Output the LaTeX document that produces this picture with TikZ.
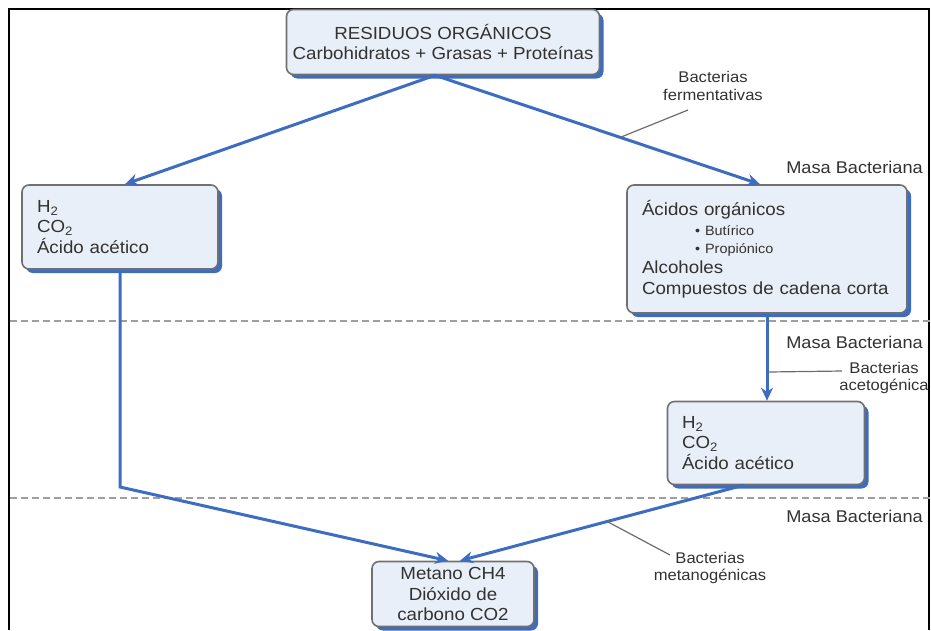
\documentclass[tikz,border=0pt]{standalone}
\usepackage{fontspec}
\setmainfont{Liberation Sans}[FakeStretch=1.07]
\usetikzlibrary{arrows.meta,shadows}
\definecolor{flowblue}{RGB}{61,108,192}
\definecolor{boxfill}{RGB}{233,239,248}
\definecolor{boxline}{RGB}{112,112,112}
\definecolor{inktext}{RGB}{50,50,50}
\tikzstyle{stagebox}=[draw=boxline, line width=1.6pt, fill=boxfill, rounded corners=7pt, text=inktext,
  drop shadow={shadow xshift=4pt, shadow yshift=-4pt, fill=flowblue, opacity=1},
  font=\fontsize{17.5}{20.5}\selectfont]
\tikzstyle{flow}=[draw=flowblue, line width=3pt, -{Stealth[length=13pt,width=12pt]}]
\tikzstyle{leader}=[draw=gray!85!black, line width=1.2pt]
\tikzstyle{note}=[text=inktext, font=\fontsize{15.5}{17.5}\selectfont, align=center, inner sep=0pt]
\tikzstyle{mass}=[text=inktext, font=\fontsize{17}{20}\selectfont, anchor=east, inner sep=0pt]
\tikzstyle{zone}=[draw=gray!75, line width=2pt, dash pattern=on 7pt off 4pt]

\begin{document}
\begin{tikzpicture}[x=1pt, y=-1pt]
\useasboundingbox (0,0) rectangle (931,630);
% Frame
    \draw[line width=2pt] (9,630) -- (9,9) -- (929,9) -- (929,630);
% Stage limits
    \draw[zone] (10,321) -- (931,321);
    \draw[zone] (10,498) -- (931,498);
% Boxes
    \node[stagebox, minimum width=313pt, minimum height=65pt, align=center] (waste) at (443,42)
        {RESIDUOS ORGÁNICOS\\Carbohidratos + Grasas + Proteínas};
    \node[stagebox, minimum width=196pt, minimum height=84pt, text width=166pt, align=left] (gasleft) at (120,227)
        {H\textsubscript{2}\\CO\textsubscript{2}\\Ácido acético};
    \node[stagebox, minimum width=280pt, minimum height=128pt, text width=250pt, align=left] (acids) at (767,249)
        {Ácidos orgánicos\\
        {\fontsize{13.5}{16}\selectfont\hspace*{53pt}•\hspace{5pt}Butírico}\\[-3pt]
        {\fontsize{13.5}{16}\selectfont\hspace*{53pt}•\hspace{5pt}Propiónico}\\
        Alcoholes\\
        Compuestos de cadena corta};
    \node[stagebox, minimum width=197pt, minimum height=83pt, text width=168pt, align=left] (gasright) at (766,443)
        {H\textsubscript{2}\\CO\textsubscript{2}\\Ácido acético};
    \node[stagebox, minimum width=162pt, minimum height=65pt, align=center] (biogas) at (453,594)
        {Metano CH4\\Dióxido de\\carbono CO2};
% Flows
    \coordinate (bendleft) at (120,487);
    \draw[flow] ([xshift=-8pt]waste.south) -- ([xshift=5pt]gasleft.north);
    \draw[flow] ([xshift=-8pt]waste.south) -- coordinate[pos=0.57] (fermpt) ([xshift=-7pt]acids.north);
    \draw[flow] (acids.south) -- coordinate[pos=0.67] (acetpt) (acids.south |- gasright.north);
    \draw[flow] (gasleft.south) -- (bendleft) -- ([xshift=-5pt]biogas.north);
    \draw[flow] ([xshift=-23pt]gasright.south) -- coordinate[pos=0.48] (metpt) ([xshift=7pt]biogas.north);
% Labels
    \node[note] (fermlbl) at (713,86) {Bacterias\\fermentativas};
    \node[note] (acetlbl) at (884,378) {Bacterias\\acetogénica};
    \node[note] (metlbl) at (710,568) {Bacterias\\metanogénicas};
    \node[mass] (massone) at (923,167) {Masa Bacteriana};
    \node[mass] (masstwo) at (923,342) {Masa Bacteriana};
    \node[mass] (massthree) at (923,516) {Masa Bacteriana};
    \coordinate (fermend) at (688,110);
    \coordinate (acetend) at (842,371);
    \coordinate (metend) at (670,555);
    \draw[leader] (fermpt) -- (fermend);
    \draw[leader] (acetpt) -- (acetend);
    \draw[leader] (metpt) -- (metend);
\end{tikzpicture}
\end{document}
